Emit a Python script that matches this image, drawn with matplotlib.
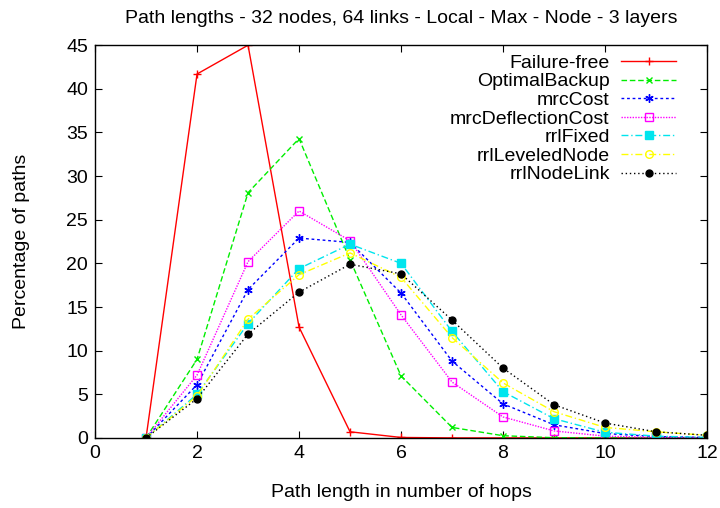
import matplotlib
matplotlib.use('Agg')
import matplotlib.pyplot as plt
import numpy as np

plt.rcParams['font.family'] = ['Liberation Sans', 'DejaVu Sans']

hops = [1, 2, 3, 4, 5, 6, 7, 8, 9, 10, 11, 12]

failure_free = [0, 41.7, 45.0, 12.7, 0.7, 0.05, 0, 0, 0, 0, 0, 0]
optimal_backup = [0, 9.0, 28.1, 34.3, 20.4, 7.1, 1.2, 0.25, 0.02, 0, 0, 0]
mrc_cost = [0, 6.1, 17.0, 22.9, 22.4, 16.6, 8.8, 3.9, 1.5, 0.5, 0.15, 0.05]
mrc_deflection = [0, 7.2, 20.2, 26.0, 22.6, 14.1, 6.4, 2.4, 0.8, 0.2, 0.05, 0]
rrl_fixed = [0, 5.0, 13.1, 19.4, 22.2, 20.0, 12.2, 5.3, 2.2, 0.65, 0.2, 0.05]
rrl_leveled = [0, 4.8, 13.6, 18.7, 21.2, 18.4, 11.5, 6.3, 3.0, 1.2, 0.7, 0.3]
rrl_nodelink = [0, 4.5, 11.9, 16.7, 19.9, 18.8, 13.5, 8.0, 3.8, 1.7, 0.7, 0.3]

series = [
    ('Failure-free', failure_free, '#ff0000', '-', '+', 'full', 6),
    ('OptimalBackup', optimal_backup, '#00ee00', (0, (4, 2)), 'x', 'full', 5),
    ('mrcCost', mrc_cost, '#0000ff', (0, (2, 2)), (6, 2, 0), 'full', 6),
    ('mrcDeflectionCost', mrc_deflection, '#ff00ff', (0, (1, 1)), 's', 'none', 6),
    ('rrlFixed', rrl_fixed, '#00e5ee', (0, (5, 2, 1, 2)), 's', 'full', 5.5),
    ('rrlLeveledNode', rrl_leveled, '#ffff00', (0, (5, 2, 1, 2)), 'o', 'none', 5.5),
    ('rrlNodeLink', rrl_nodelink, '#000000', (0, (1, 2)), 'o', 'full', 5),
]

fig = plt.figure(figsize=(7.2, 5.08), dpi=100)
ax = fig.add_axes([0.132, 0.138, 0.85, 0.773])

for name, vals, col, ls, mk, fill, ms in series:
    ax.plot(hops, vals, color=col, linestyle=ls, linewidth=1, marker=mk,
            markersize=ms, fillstyle=fill, markeredgewidth=1, label=name)

ax.set_xlim(0, 12)
ax.set_ylim(0, 45)
ax.set_xticks(range(0, 13, 2))
ax.set_yticks(range(0, 46, 5))
ax.tick_params(direction='in', top=True, right=True, labelsize=14, length=5, pad=5)
for s in ax.spines.values():
    s.set_linewidth(1)

ax.set_xlabel('Path length in number of hops', fontsize=14, labelpad=16)
ax.set_ylabel('Percentage of paths', fontsize=14, labelpad=26)
ax.set_title('Path lengths - 32 nodes, 64 links - Local - Max - Node - 3 layers',
             fontsize=14, pad=16)

leg = ax.legend(loc='upper right', bbox_to_anchor=(0.949, 0.977), frameon=False,
                markerfirst=False, fontsize=14, handlelength=2.8, handletextpad=0.6,
                labelspacing=0.05, borderaxespad=0.0, borderpad=0.0)
for t in leg.get_texts():
    t.set_ha('right')
leg._legend_box.align = 'right'

fig.savefig('out.png', dpi=100)
